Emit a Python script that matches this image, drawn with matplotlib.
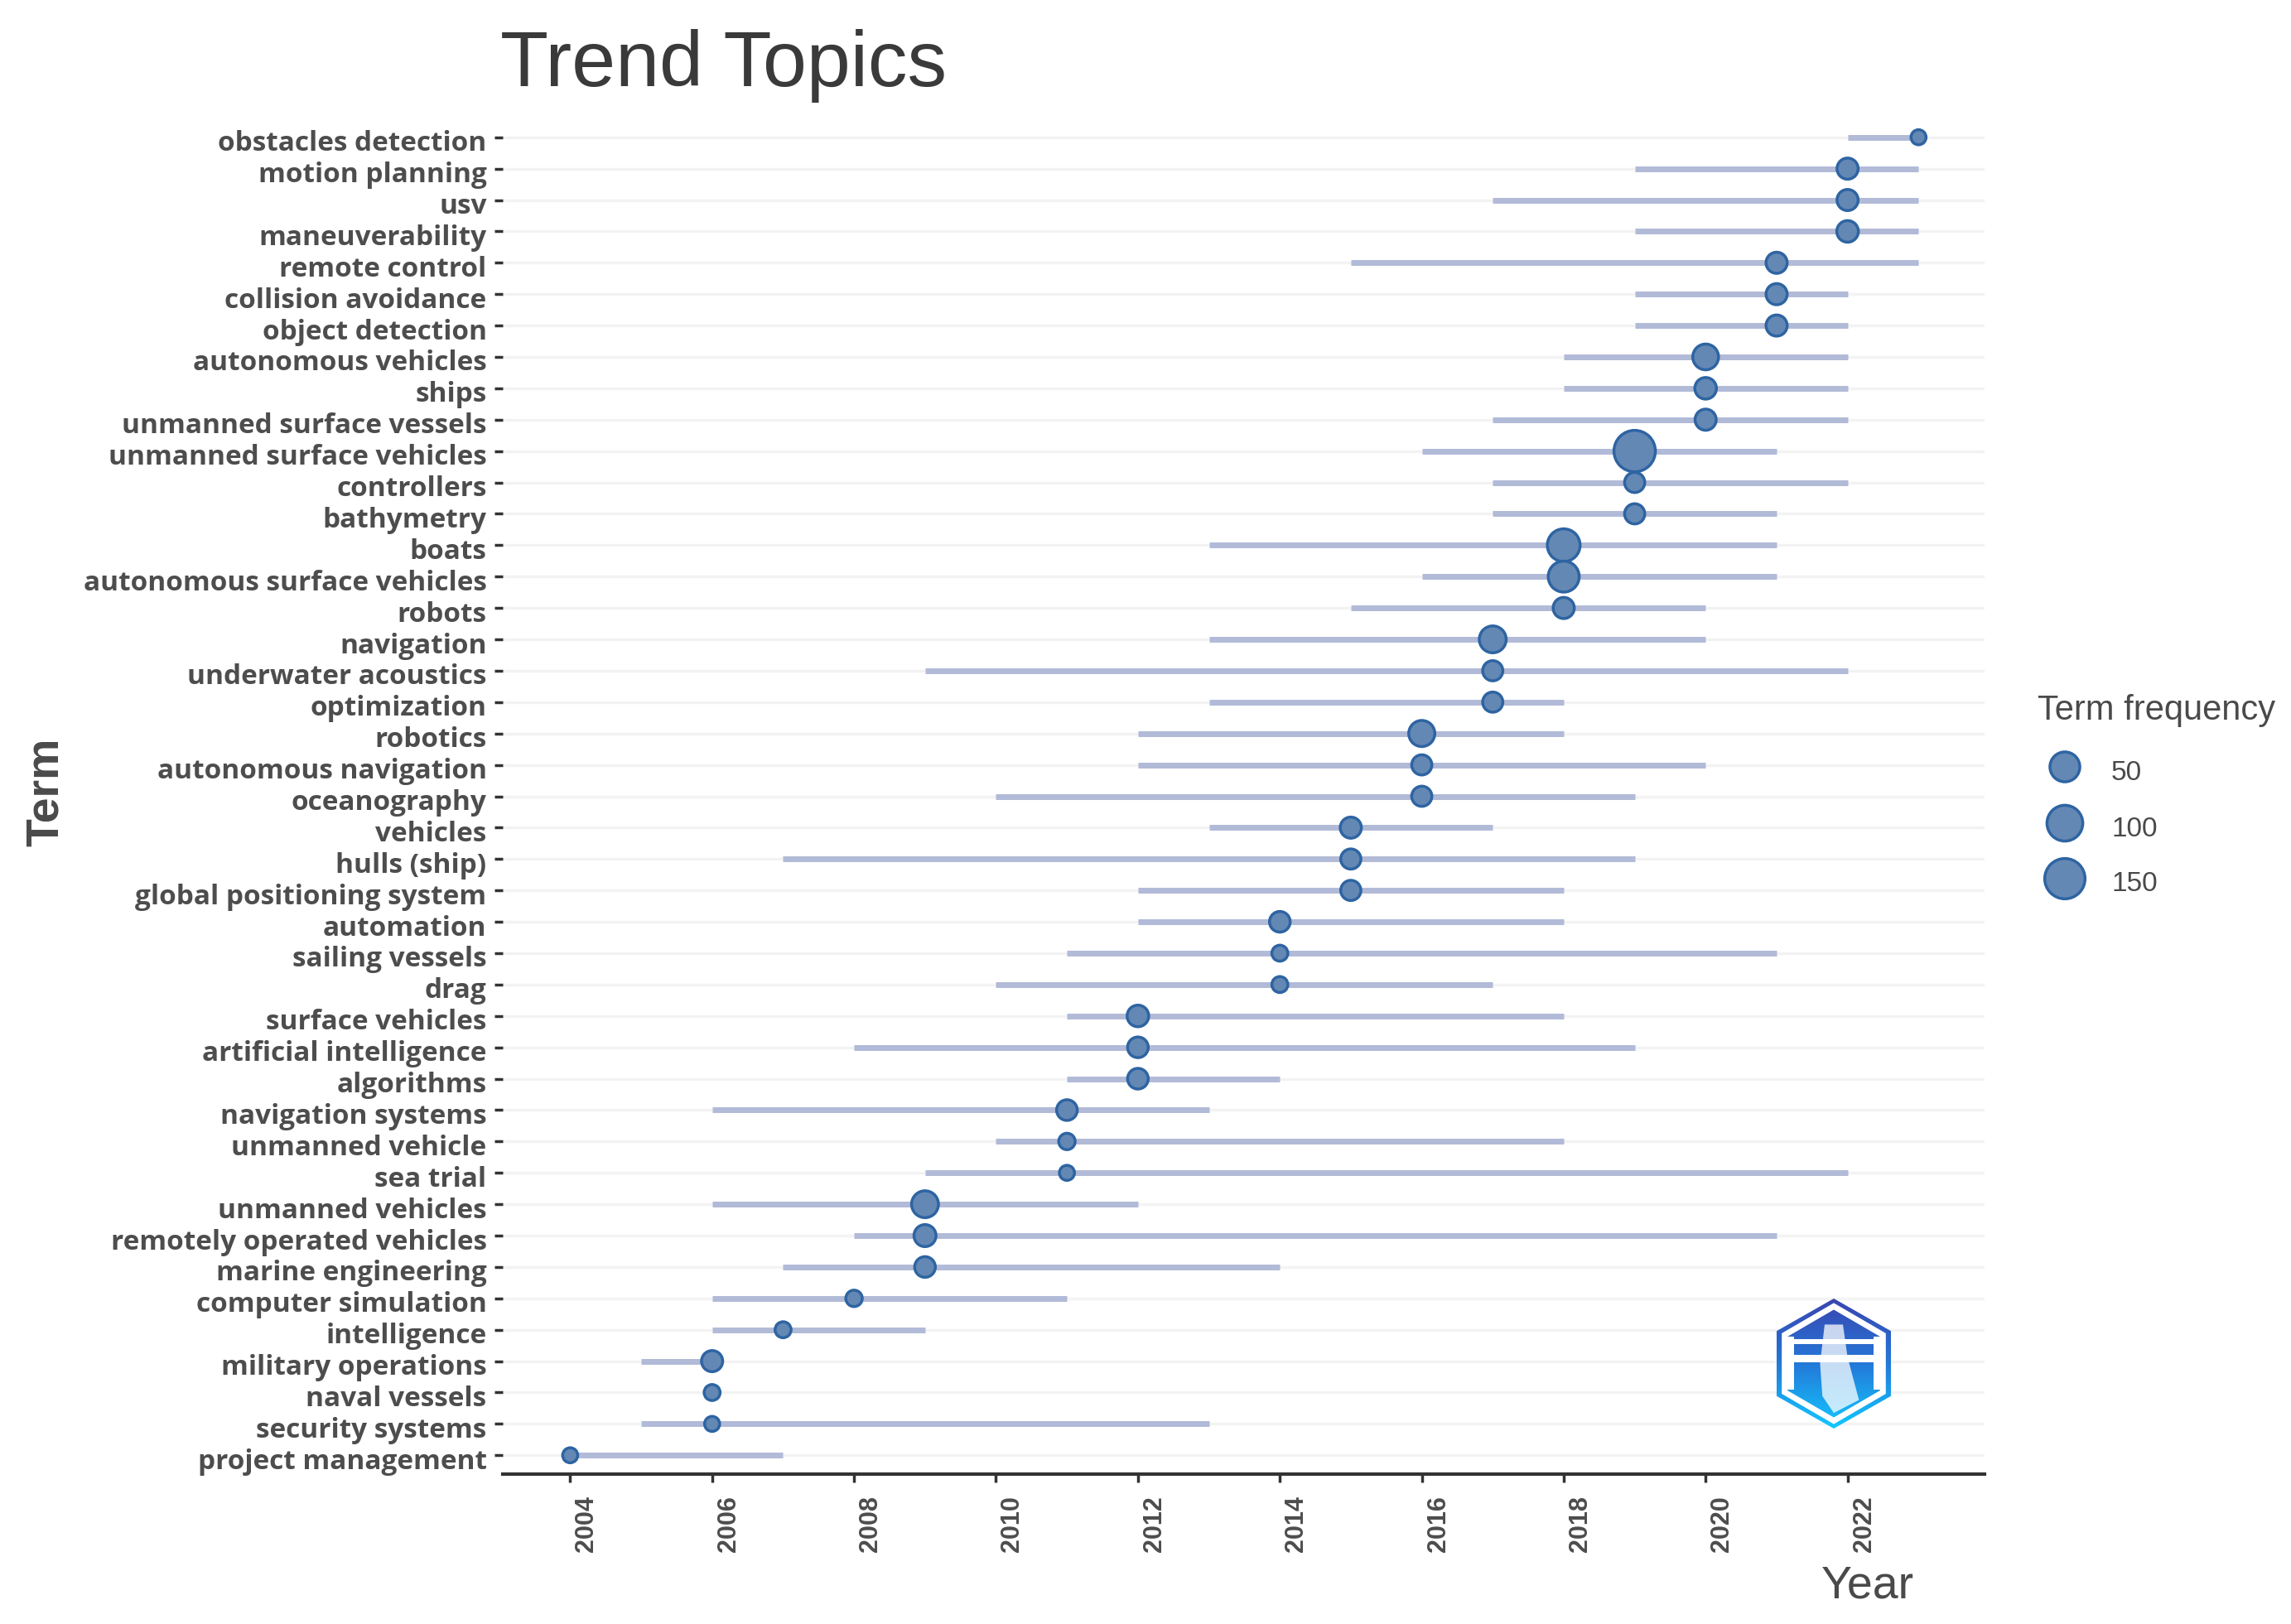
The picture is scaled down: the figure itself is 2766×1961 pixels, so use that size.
import numpy as np
import matplotlib
matplotlib.use('Agg')
import matplotlib.pyplot as plt
from matplotlib.patches import Polygon
from matplotlib.transforms import ScaledTranslation

terms = ['obstacles detection', 'motion planning', 'usv', 'maneuverability', 'remote control',
         'collision avoidance', 'object detection', 'autonomous vehicles', 'ships',
         'unmanned surface vessels', 'unmanned surface vehicles', 'controllers', 'bathymetry',
         'boats', 'autonomous surface vehicles', 'robots', 'navigation', 'underwater acoustics',
         'optimization', 'robotics', 'autonomous navigation', 'oceanography', 'vehicles',
         'hulls (ship)', 'global positioning system', 'automation', 'sailing vessels', 'drag',
         'surface vehicles', 'artificial intelligence', 'algorithms', 'navigation systems',
         'unmanned vehicle', 'sea trial', 'unmanned vehicles', 'remotely operated vehicles',
         'marine engineering', 'computer simulation', 'intelligence', 'military operations',
         'naval vessels', 'security systems', 'project management']
year_start = [2022, 2019, 2017, 2019, 2015, 2019, 2019, 2018, 2018, 2017, 2016, 2017, 2017,
              2013, 2016, 2015, 2013, 2009, 2013, 2012, 2012, 2010, 2013, 2007, 2012, 2012,
              2011, 2010, 2011, 2008, 2011, 2006, 2010, 2009, 2006, 2008, 2007, 2006, 2006,
              2005, 2006, 2005, 2004]
year_median = [2023, 2022, 2022, 2022, 2021, 2021, 2021, 2020, 2020, 2020, 2019, 2019, 2019,
               2018, 2018, 2018, 2017, 2017, 2017, 2016, 2016, 2016, 2015, 2015, 2015, 2014,
               2014, 2014, 2012, 2012, 2012, 2011, 2011, 2011, 2009, 2009, 2009, 2008, 2007,
               2006, 2006, 2006, 2004]
year_end = [2023, 2023, 2023, 2023, 2023, 2022, 2022, 2022, 2022, 2022, 2021, 2022, 2021,
            2021, 2021, 2020, 2020, 2022, 2018, 2018, 2020, 2019, 2017, 2019, 2018, 2018,
            2021, 2017, 2018, 2019, 2014, 2013, 2018, 2022, 2012, 2021, 2014, 2011, 2009,
            2006, 2006, 2013, 2007]
freq = [5, 24, 24, 26, 24, 24, 24, 48, 26, 24, 190, 20, 20, 100, 85, 24, 55, 20, 20, 50, 20, 20,
        24, 20, 20, 22, 7, 7, 26, 22, 22, 22, 8, 5, 55, 28, 22, 8, 7, 24, 7, 5, 5]
legend_values = [50, 100, 150]
xticks = list(range(2004, 2023, 2))

W, H = 2766, 1961
plt.rcParams['font.family'] = ['Liberation Sans', 'DejaVu Sans']


def marker_size(f, base=12, span=38):
    d = base + span * np.sqrt(np.asarray(f, dtype=float) / 190)
    return (d * 0.72) ** 2


fig = plt.figure(figsize=(W / 100, H / 100), dpi=100)
ax = fig.add_axes([607 / W, 1 - 1780 / H, (2396 - 607) / W, (1780 - 143) / H])

y = np.arange(len(terms))[::-1]
ax.hlines(y, 0, 1, transform=ax.get_yaxis_transform(), color='#f3f3f3', lw=2.5, zorder=1)
ax.hlines(y, year_start, year_end, color='#b1bad7', lw=5, zorder=2)
ax.scatter(year_median, y, s=marker_size(freq), facecolor='#6488b4', edgecolor='#2e64a2',
           linewidth=2.5, zorder=3)

ax.set_xlim(2003.05, 2023.93)
ax.set_ylim(-0.6, 42.6)
ax.set_yticks(y)
ax.set_yticklabels(terms, fontsize=24, fontweight='bold', color='#4d4d4d', family='Open Sans')
ax.set_xticks(xticks)
ax.set_xticklabels(xticks, rotation=90, fontsize=22, fontweight='bold', color='#4d4d4d')
ax.tick_params(axis='both', length=7, width=2.5, color='#333333')
ax.tick_params(axis='x', pad=12)
ax.tick_params(axis='y', pad=7)
for lab in ax.get_xticklabels():
    lab.set_transform(lab.get_transform() + ScaledTranslation(20 / 100, 0, fig.dpi_scale_trans))
for lab in ax.get_yticklabels():
    lab.set_transform(lab.get_transform() + ScaledTranslation(0, -4 / 100, fig.dpi_scale_trans))
for side in ['top', 'left', 'right']:
    ax.spines[side].set_visible(False)
ax.spines['bottom'].set_linewidth(3)
ax.spines['bottom'].set_color('#333333')

fig.text(604 / W, 1 - 80 / H, 'Trend Topics', fontsize=68.5, color='#3a3a3a', ha='left', va='center')
fig.text(2255 / W, 1 - 1916 / H, 'Year', fontsize=40, color='#4a4a4a', ha='center', va='center')
fig.text(56 / W, 1 - 956 / H, 'Term', fontsize=40, fontweight='bold', color='#4a4a4a',
         rotation=90, ha='center', va='center')

# legend
fig.text(2460 / W, 1 - 858 / H, 'Term frequency', fontsize=30, color='#4a4a4a', ha='left', va='center')
leg_ax = fig.add_axes([0, 0, 1, 1])
leg_ax.set_xlim(0, W)
leg_ax.set_ylim(H, 0)
leg_ax.axis('off')
leg_pos = [926, 994, 1061]
leg_ax.scatter([2493] * 3, leg_pos, s=marker_size(legend_values, 18, 32) * 1.1, facecolor='#6488b4',
               edgecolor='#2e64a2', linewidth=2.5)
for v, p in zip(legend_values, leg_pos):
    leg_ax.text(2549, p + 7, str(v), fontsize=24, color='#4a4a4a', ha='left', va='center')

# logo
logo = fig.add_axes([2145 / W, 1 - 1725 / H, 138 / W, 157 / H])
logo.set_xlim(0, 1)
logo.set_ylim(0, 1)
logo.axis('off')
grad = np.linspace(0, 1, 200)[:, None]
cmap = matplotlib.colors.LinearSegmentedColormap.from_list('logo', ['#3a45b0', '#2478d8', '#12c8ff'])
im = logo.imshow(grad, extent=[0, 1, 0, 1], origin='upper', aspect='auto', cmap=cmap)
hexagon = Polygon([(0.5, 1), (1, 0.75), (1, 0.25), (0.5, 0), (0, 0.25), (0, 0.75)],
                  transform=logo.transAxes, facecolor='none', edgecolor='none')
logo.add_patch(hexagon)
im.set_clip_path(hexagon)
logo.add_patch(Polygon([(0.5, 0.94), (0.93, 0.72), (0.93, 0.28), (0.5, 0.06), (0.07, 0.28), (0.07, 0.72)],
                       fill=False, edgecolor='white', lw=5))
logo.add_patch(Polygon([(0.08, 0.69), (0.92, 0.69), (0.92, 0.65), (0.08, 0.65)], facecolor='white', edgecolor='none'))
logo.add_patch(Polygon([(0.08, 0.57), (0.92, 0.57), (0.92, 0.51), (0.08, 0.51)], facecolor='white', edgecolor='none'))
logo.add_patch(Polygon([(0.08, 0.71), (0.15, 0.71), (0.15, 0.3), (0.08, 0.3)], facecolor='white', edgecolor='none'))
logo.add_patch(Polygon([(0.85, 0.71), (0.92, 0.71), (0.92, 0.3), (0.85, 0.3)], facecolor='white', edgecolor='none'))
logo.add_patch(Polygon([(0.42, 0.8), (0.58, 0.8), (0.62, 0.55), (0.72, 0.22), (0.5, 0.12), (0.4, 0.25), (0.38, 0.5)],
                       facecolor='white', edgecolor='none', alpha=0.75))

fig.savefig('out.png', dpi=100, facecolor='white')
